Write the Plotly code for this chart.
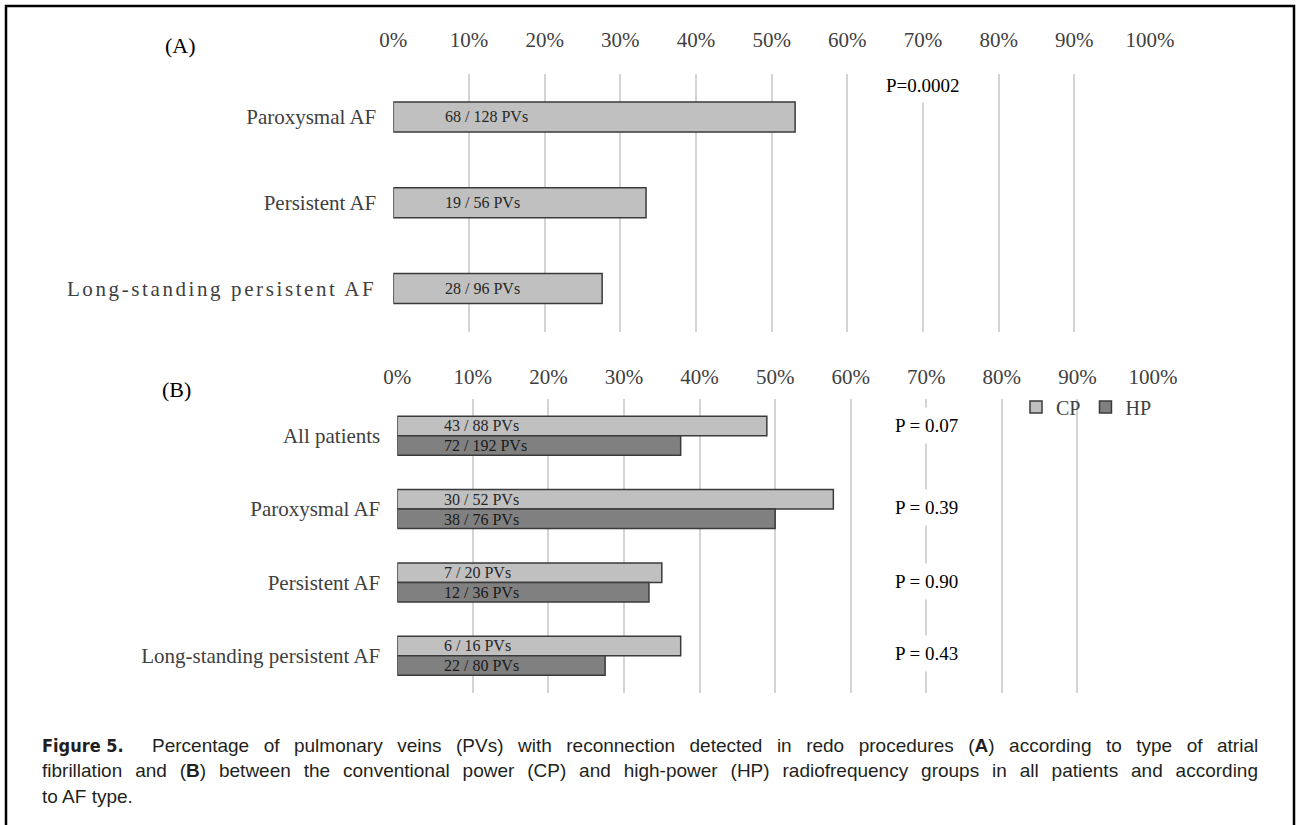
import plotly.graph_objects as go

W, H = 1297, 825

# ---- Data ----
a_categories = ["Paroxysmal AF", "Persistent AF", "Long-standing persistent AF"]
a_values = [53.1, 33.4, 27.6]
a_labels = ["68 / 128 PVs", "19 / 56 PVs", "28 / 96 PVs"]
a_pvalue = "P=0.0002"

b_categories = ["All patients", "Paroxysmal AF", "Persistent AF", "Long-standing persistent AF"]
cp_values = [48.9, 57.7, 35.0, 37.5]
hp_values = [37.5, 50.0, 33.3, 27.5]
cp_labels = ["43 / 88 PVs", "30 / 52 PVs", "7 / 20 PVs", "6 / 16 PVs"]
hp_labels = ["72 / 192 PVs", "38 / 76 PVs", "12 / 36 PVs", "22 / 80 PVs"]
b_pvalues = ["P = 0.07", "P = 0.39", "P = 0.90", "P = 0.43"]

tick_vals = list(range(0, 101, 10))
tick_text = [f"{v}%" for v in tick_vals]

caption_lines = [
    "Percentage of pulmonary veins (PVs) with reconnection detected in redo procedures (<b>A</b>) according to type of atrial",
    "fibrillation and (<b>B</b>) between the conventional power (CP) and high-power (HP) radiofrequency groups in all patients and according",
    "to AF type.",
]

SERIF = "Liberation Serif, Times New Roman, serif"
SANS = "Liberation Sans, Arial, sans-serif"
LIGHT = "#c0c0c0"
DARK = "#808080"
EDGE = "#3a3a3a"
GRID = "#d4d4d4"
TXT = "#404040"


def px(x):
    return x / W


def py(y):
    return 1 - y / H


fig = go.Figure()

fig.add_trace(go.Bar(
    y=a_categories, x=a_values, orientation="h",
    marker=dict(color=LIGHT, line=dict(color=EDGE, width=1.5)),
    xaxis="x", yaxis="y", showlegend=False, width=0.35,
))
fig.add_trace(go.Bar(
    y=b_categories, x=cp_values, orientation="h", name="CP",
    marker=dict(color=LIGHT, line=dict(color=EDGE, width=1.5)),
    xaxis="x2", yaxis="y2", offsetgroup="cp",
))
fig.add_trace(go.Bar(
    y=b_categories, x=hp_values, orientation="h", name="HP",
    marker=dict(color=DARK, line=dict(color=EDGE, width=1.5)),
    xaxis="x2", yaxis="y2", offsetgroup="hp",
))

annotations = []
for cat, lab in zip(a_categories, a_labels):
    annotations.append(dict(x=6.6, y=cat, xref="x", yref="y", text=lab, showarrow=False,
                            xanchor="left", yanchor="middle", font=dict(family=SERIF, size=16, color="#262626")))
for cat, lab in zip(b_categories, cp_labels):
    annotations.append(dict(x=5.9, y=cat, xref="x2", yref="y2", text=lab, showarrow=False,
                            xanchor="left", yanchor="middle", yshift=10,
                            font=dict(family=SERIF, size=16, color="#262626")))
for cat, lab in zip(b_categories, hp_labels):
    annotations.append(dict(x=5.9, y=cat, xref="x2", yref="y2", text=lab, showarrow=False,
                            xanchor="left", yanchor="middle", yshift=-10,
                            font=dict(family=SERIF, size=16, color="#1a1a1a")))

# P values
annotations.append(dict(x=70, y=py(85), xref="x", yref="paper", text=a_pvalue, showarrow=False,
                        xanchor="center", yanchor="middle",
                        bgcolor="white", borderpad=6, font=dict(family=SERIF, size=19, color="black")))
p_shifts = [10, 2, 1, 2]
for cat, p, s in zip(b_categories, b_pvalues, p_shifts):
    annotations.append(dict(x=70, y=cat, xref="x2", yref="y2", text=p, showarrow=False, yshift=s,
                            xanchor="center", yanchor="middle",
                            bgcolor="white", borderpad=7, font=dict(family=SERIF, size=19, color="black")))

annotations.append(dict(x=px(181), y=py(45), xref="paper", yref="paper", text="(A)", showarrow=False,
                        xanchor="center", yanchor="middle", font=dict(family=SERIF, size=22, color="black")))
annotations.append(dict(x=px(176), y=py(390), xref="paper", yref="paper", text="(B)", showarrow=False,
                        xanchor="center", yanchor="middle", font=dict(family=SERIF, size=22, color="black")))

# Caption
annotations.append(dict(x=px(40), y=py(745), xref="paper", yref="paper", text="<b>Figure 5.</b>",
                        showarrow=False, xanchor="left", yanchor="middle",
                        font=dict(family="DejaVu Sans Condensed, Liberation Sans Narrow, Arial Narrow, sans-serif",
                                  size=18, color="#231f20")))
cap_x = [150, 40, 40]
cap_y = [745, 770, 796]
cap_wordspacing = [9.2, 7.6, 0]
for t, xx, yy, ws in zip(caption_lines, cap_x, cap_y, cap_wordspacing):
    annotations.append(dict(x=px(xx), y=py(yy), xref="paper", yref="paper",
                            text=f'<span style="word-spacing:{ws}px">{t}</span>', showarrow=False,
                            xanchor="left", yanchor="middle", font=dict(family=SANS, size=19, color="#231f20")))

shapes = [dict(type="rect", xref="paper", yref="paper", x0=px(6), x1=px(1294), y0=py(6), y1=py(840),
               line=dict(color="black", width=2.5), fillcolor="rgba(0,0,0,0)", layer="above")]

axis_common = dict(range=[0, 100], tickvals=tick_vals, ticktext=tick_text, side="top",
                   showgrid=True, gridcolor=GRID, gridwidth=1.5, zeroline=False, showline=False,
                   automargin=False,
                   tickfont=dict(family=SERIF, size=21, color=TXT), fixedrange=True)

a_ticktext = [c if c != "Long-standing persistent AF"
              else f'<span style="letter-spacing:2.6px">{c}</span>' for c in a_categories]

fig.update_layout(
    width=W, height=H, margin=dict(l=0, r=0, t=0, b=0, autoexpand=False),
    paper_bgcolor="white", plot_bgcolor="white",
    barmode="group", bargap=0.47, bargroupgap=0,
    xaxis=dict(domain=[px(393.3), px(1150)], anchor="y", ticklabelstandoff=22, **axis_common),
    yaxis=dict(domain=[py(331.5), py(74)], anchor="x", type="category", categoryorder="array",
               categoryarray=a_categories, range=[2.5, -0.5], showgrid=False, zeroline=False,
               tickvals=a_categories, ticktext=a_ticktext,
               automargin=False, fixedrange=True,
               tickfont=dict(family=SERIF, size=21, color=TXT), ticklabelstandoff=16),
    xaxis2=dict(domain=[px(397.3), px(1153)], anchor="y2", ticklabelstandoff=10, **axis_common),
    yaxis2=dict(domain=[py(692.5), py(399)], anchor="x2", type="category", categoryorder="array",
                categoryarray=b_categories, range=[3.5, -0.5], showgrid=False, zeroline=False,
                automargin=False, fixedrange=True,
                tickfont=dict(family=SERIF, size=21, color=TXT), ticklabelstandoff=16),
    legend=dict(orientation="h", x=px(1016), y=py(407), xanchor="left", yanchor="middle",
                font=dict(family=SERIF, size=20, color=TXT), bgcolor="rgba(0,0,0,0)",
                itemwidth=30, tracegroupgap=0, traceorder="normal"),
    annotations=annotations, shapes=shapes,
)

fig.write_html(
    "out.html",
    config={"responsive": False, "displayModeBar": False},
    post_script="document.body.style.margin='0';document.body.style.padding='0';"
                "document.body.style.overflow='hidden';document.documentElement.style.overflow='hidden';",
)
